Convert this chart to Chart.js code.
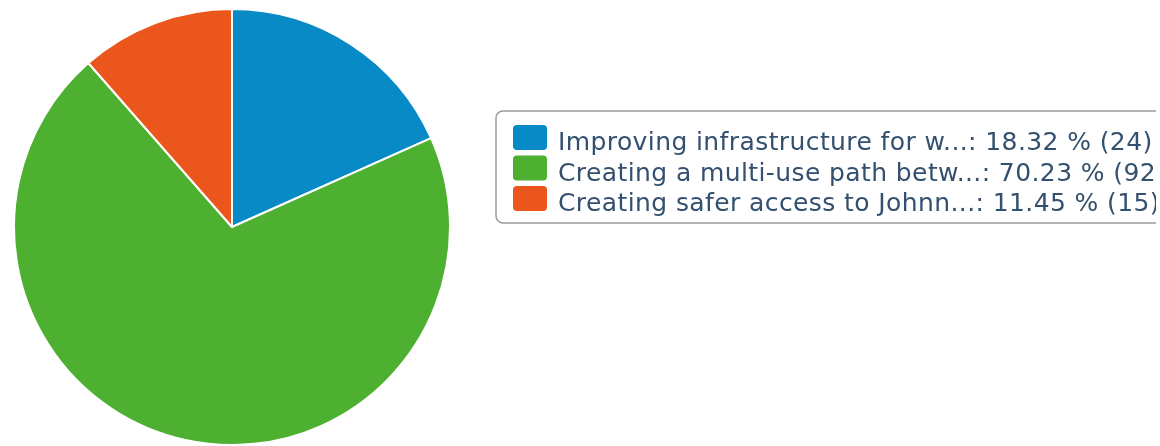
<!DOCTYPE html>
<html lang="en">

<head>
    <meta charset="UTF-8">
    <title>Pie chart</title>
    <script src="https://cdn.jsdelivr.net/npm/chart.js"></script>
    <style>
        html, body { margin: 0; padding: 0; background: #fff; }
        .chart-container { position: relative; width: 1160px; height: 446px; }
    </style>
</head>

<body>

    <div class="chart-container">
        <canvas id="pieChart"></canvas>
    </div>

    <script>
        // data
        const categories = [
            'Improving infrastructure for w...',
            'Creating a multi-use path betw...',
            'Creating safer access to Johnn...'
        ];
        const counts = [24, 92, 15];
        const sliceColors = ['#078ac5', '#4eb030', '#eb561c'];

        const total = counts.reduce((a, b) => a + b, 0);

        // boxed legend on the right, drawn from the chart data
        const boxLegend = {
            id: 'boxLegend',
            afterDraw(chart) {
                const ctx = chart.ctx;
                const x0 = 496, y0 = 111, h = 112, rowH = 30.5;
                ctx.save();
                ctx.beginPath();
                ctx.rect(0, 0, 1156, chart.height);
                ctx.clip();

                ctx.beginPath();
                ctx.roundRect(x0, y0, 800, h, 7);
                ctx.fillStyle = '#fff';
                ctx.fill();
                ctx.lineWidth = 1.5;
                ctx.strokeStyle = '#9a9a9a';
                ctx.stroke();

                ctx.font = '25px "DejaVu Sans"';
                ctx.letterSpacing = '0.4px';
                ctx.textBaseline = 'alphabetic';
                chart.data.labels.forEach((label, i) => {
                    const top = y0 + 14 + i * rowH;
                    ctx.beginPath();
                    ctx.roundRect(x0 + 17, top, 34, 25, 4);
                    ctx.fillStyle = sliceColors[i];
                    ctx.fill();

                    const v = chart.data.datasets[0].data[i];
                    const pct = (v / total * 100).toFixed(2);
                    ctx.fillStyle = '#34506f';
                    ctx.fillText(label + ': ' + pct + ' % (' + v + ')', x0 + 62, top + 25);
                });
                ctx.restore();
            }
        };

        const ctx = document.getElementById('pieChart').getContext('2d');
        const pieChart = new Chart(ctx, {
            type: 'pie',
            data: {
                labels: categories,
                datasets: [{
                    data: counts,
                    backgroundColor: sliceColors,
                    borderColor: '#fff',
                    borderWidth: 2
                }]
            },
            options: {
                responsive: true,
                maintainAspectRatio: false,
                animation: false,
                layout: {
                    padding: { left: 13, top: 8, right: 709, bottom: 0 }
                },
                plugins: {
                    legend: { display: false },
                    tooltip: { enabled: false }
                }
            },
            plugins: [boxLegend]
        });
    </script>

</body>

</html>
